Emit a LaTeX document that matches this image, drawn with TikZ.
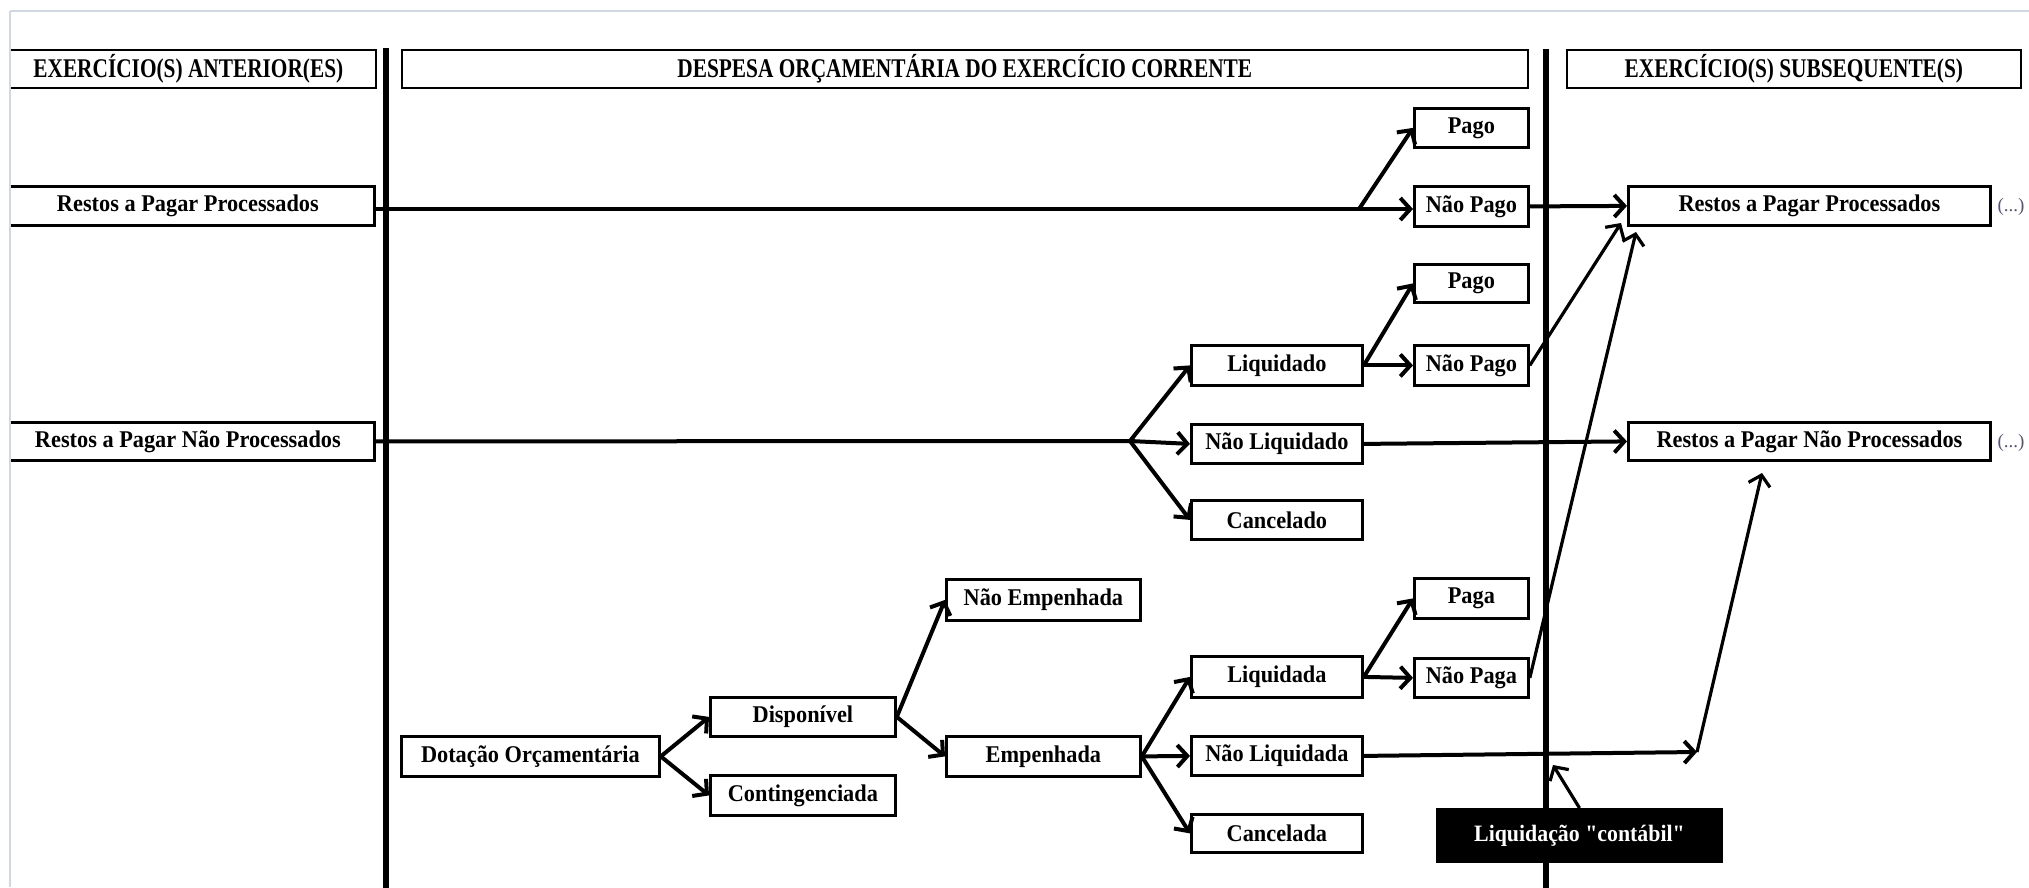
\documentclass[tikz,border=0pt]{standalone}
\usepackage{fontspec}
\setmainfont[Ligatures=TeXOff]{Liberation Serif}
\newfontfamily\hdfont[FakeStretch=0.79,Ligatures=TeXOff]{Liberation Serif}
\newfontfamily\bdfont[FakeStretch=0.93,Ligatures=TeXOff]{Liberation Serif}
\usetikzlibrary{arrows.meta}
\definecolor{framec}{RGB}{208,216,232}
\definecolor{dotsc}{RGB}{90,80,130}
\newcommand\bx[7][box]{\node[#1, minimum width={(#5)-(#3)}, minimum height={(#6)-(#4)}, anchor=north west] (#2) at (#3,#4) {#7};}
\begin{document}
\begin{tikzpicture}[x=1pt,y=-1pt,
  box/.style={draw, line width=2.8pt, fill=white, inner sep=0pt, font=\bdfont\fontsize{24}{26}\selectfont\bfseries},
  hdr/.style={draw, line width=1.7pt, fill=white, inner sep=0pt, font=\hdfont\fontsize{27}{29}\selectfont\bfseries},
  blk/.style={draw=black, line width=1pt, fill=black, text=white, inner sep=0pt, font=\bdfont\fontsize{23.5}{25}\selectfont\bfseries},
  conn/.style={line width=4pt, -{Straight Barb[length=10pt,width=22pt]}},
  connthin/.style={line width=3.2pt, -{Straight Barb[length=10pt,width=22pt]}},
  vline/.style={line width=6.5pt},
  dots/.style={text=dotsc, inner sep=0pt, font=\fontsize{19}{21}\selectfont},
  frame/.style={draw=framec, line width=1.5pt}]
\useasboundingbox (0,0) rectangle (2029,887);
\begin{scope}
\clip (10.5,0) rectangle (2029,887);
% vertical separators
\draw[vline] (386,48) -- (386,895);
\draw[vline] (1546,49) -- (1546,895);
% headers
\bx[hdr]{hA}{0}{49}{375}{87}{EXERCÍCIO(S) ANTERIOR(ES)}
\bx[hdr]{hB}{401}{49}{1527}{87}{DESPESA ORÇAMENTÁRIA DO EXERCÍCIO CORRENTE}
\bx[hdr]{hC}{1566}{49}{2020}{87}{EXERCÍCIO(S) SUBSEQUENTE(S)}
% boxes
\bx{lRPP}{0}{185}{373}{224}{Restos a Pagar Processados}
\bx{lRPNP}{0}{421}{373}{459}{Restos a Pagar Não Processados}
\bx{Pago1}{1413}{107}{1527}{146}{Pago}
\bx{NaoPago1}{1413}{185}{1527}{225}{Não Pago}
\bx{rRPP}{1627}{185}{1989}{224}{Restos a Pagar Processados}
\bx{Pago2}{1413}{263}{1527}{301}{Pago}
\bx{Liquidado}{1190}{344}{1361}{384}{Liquidado}
\bx{NaoPago2}{1413}{344}{1527}{384}{Não Pago}
\bx{NaoLiquidado}{1190}{423}{1361}{462}{Não Liquidado}
\bx{rRPNP}{1627}{421}{1989}{459}{Restos a Pagar Não Processados}
\bx{Cancelado}{1190}{499}{1361}{538}{Cancelado}
\bx{NaoEmp}{945}{578}{1139}{619}{Não Empenhada}
\bx{Paga}{1413}{577}{1527}{617}{Paga}
\bx{Liquidada}{1190}{655}{1361}{696}{Liquidada}
\bx{NaoPaga}{1413}{657}{1527}{696}{Não Paga}
\bx{Disponivel}{709}{696}{894}{735}{Disponível}
\bx{Dotacao}{400}{735}{658}{775}{Dotação Orçamentária}
\bx{Empenhada}{945}{735}{1139}{775}{Empenhada}
\bx{NaoLiquidada}{1190}{735}{1361}{774}{Não Liquidada}
\bx{Contingenciada}{709}{774}{894}{814}{Contingenciada}
\bx{Cancelada}{1190}{813}{1361}{851}{Cancelada}
% dots
\node[dots] (d1) at (2011,207) {(...)};
\node[dots] (d2) at (2011,443) {(...)};
% free ends
\coordinate (b1) at (1359,209);
\coordinate (b3) at (1130,441);
\coordinate (t1) at (1621,223);
\coordinate (t2) at (1636,232);
\coordinate (k) at (1697,752);
\coordinate (t3) at (1762,473);
\coordinate (t4) at (1553,765);
% connectors row 1
\draw[conn] (lRPP.east |- b1) -- (NaoPago1.west |- b1);
\draw[conn] (b1) -- (Pago1.west);
\draw[conn] (NaoPago1.east) -- (rRPP.west);
% row 2
\draw[conn] (Liquidado.east) -- (Pago2.west);
\draw[conn] (Liquidado.east) -- (NaoPago2.west);
\draw[connthin] (NaoPago2.east) -- (t1);
% row 3
\draw[line width=4pt] (lRPNP.east) -- (b3);
\draw[conn] (b3) -- (Liquidado.west);
\draw[conn] (b3) -- (NaoLiquidado.west);
\draw[conn] (b3) -- (Cancelado.west);
\draw[conn] (NaoLiquidado.east) -- (rRPNP.west);
% bottom
\draw[conn] (Dotacao.east) -- (Disponivel.west);
\draw[conn] (Dotacao.east) -- (Contingenciada.west);
\draw[conn] (Disponivel.east) -- (NaoEmp.west);
\draw[conn] (Disponivel.east) -- (Empenhada.west);
\draw[conn] (Empenhada.east) -- (Liquidada.west);
\draw[conn] (Empenhada.east) -- (NaoLiquidada.west);
\draw[conn] (Empenhada.east) -- (Cancelada.west);
\draw[conn] (Liquidada.east) -- (Paga.west);
\draw[conn] (Liquidada.east) -- (NaoPaga.west);
\draw[connthin] (NaoPaga.east) -- (t2);
\draw[conn] (NaoLiquidada.east) -- (k);
\draw[connthin] (k) -- (t3);
% black note
\bx[blk]{Liq}{1436}{808}{1722}{862}{Liquidação "contábil"}
\draw[connthin] (Liq.north) -- (t4);
\end{scope}
% light frame
\draw[frame] (10,11) -- (2029,11);
\draw[frame] (10,11) -- (10,887);
\end{tikzpicture}
\end{document}
